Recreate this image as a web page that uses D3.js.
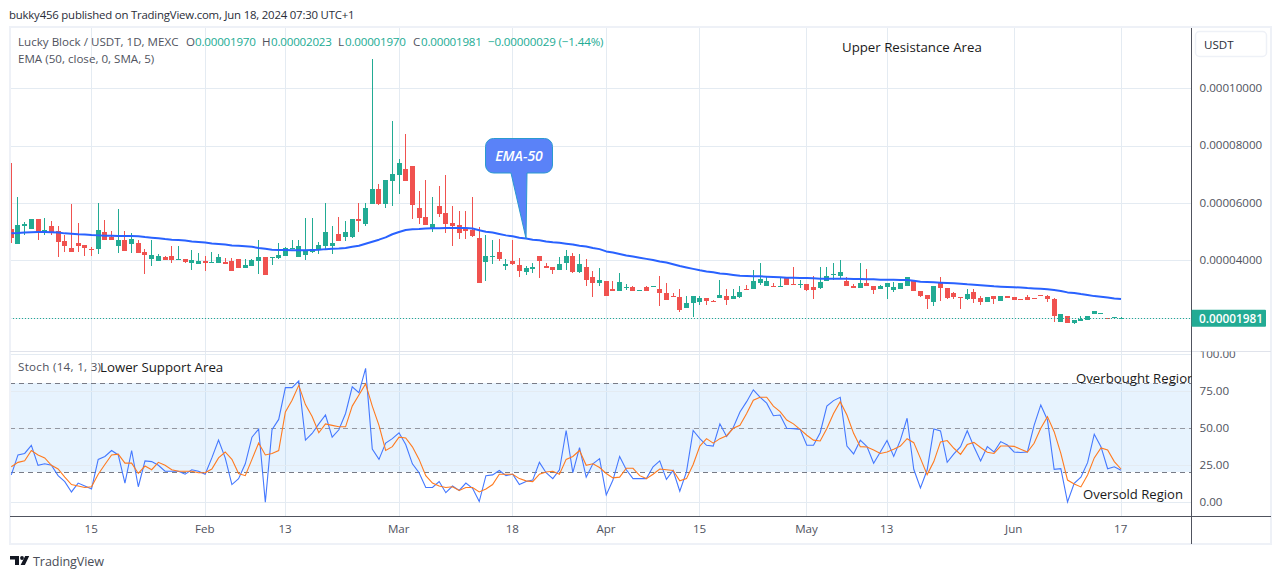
<!DOCTYPE html>
<html>
<head>
<meta charset="utf-8">
<script src="https://cdn.jsdelivr.net/npm/d3@7"></script>
<style>
  html, body { margin: 0; padding: 0; background: #fff; overflow: hidden; }
  text { font-family: "Open Sans", sans-serif; }
  .tick text { font-size: 11.6px; fill: #50535e; }
  .domain { display: none; }
</style>
</head>
<body>
<div id="chart"></div>
<script>
// prices below are in units of 0.00001 USDT, one candle per day from Jan 3 2024
var first_day = new Date(Date.UTC(2024, 0, 3));
var last_day = new Date(Date.UTC(2024, 5, 17));

var opens = [
  5.09,4.58,5.20,5.09,5.44,4.97,5.20,5.02,4.67,4.43,
  4.61,4.53,4.41,4.40,4.99,4.81,4.50,4.71,4.57,4.61,
  4.29,4.05,3.98,4.12,4.15,4.01,4.05,3.91,3.87,3.98,
  3.91,3.91,3.94,3.98,4.05,3.73,3.80,3.98,4.12,4.08,
  4.08,4.15,4.40,4.12,4.19,4.29,4.36,4.50,4.50,4.92,
  4.82,4.82,5.44,5.27,5.97,6.49,5.97,6.77,6.98,7.19,
  7.29,5.83,5.51,5.09,5.90,5.65,5.30,5.23,5.13,5.06,
  4.78,3.94,4.12,4.29,3.80,3.98,3.84,3.59,3.70,4.15,
  3.80,3.77,3.66,3.91,4.15,3.59,3.77,3.42,3.21,3.28,
  3.00,2.93,3.03,3.07,2.93,3.07,3.07,2.99,2.86,2.75,
  2.72,2.34,2.51,2.54,2.68,2.58,2.68,2.75,2.65,2.72,
  2.99,2.99,3.21,3.10,3.10,3.07,3.38,3.17,3.14,3.17,
  3.07,3.03,3.28,3.49,3.45,3.28,3.10,3.03,3.21,3.10,
  3.00,3.07,2.96,3.00,3.10,3.28,2.93,2.79,2.54,3.21,
  3.03,2.86,2.72,2.65,2.89,2.68,2.54,2.75,2.58,2.75,
  2.72,2.65,2.72,2.68,2.79,2.75,2.65,1.85,2.06,1.81,
  1.88,1.92,2.13,2.13,1.99,1.99,1.970
];
var highs = [
  7.39,6.20,5.34,5.44,5.44,5.47,5.37,5.20,4.88,5.97,
  5.30,4.53,4.48,6.00,5.41,5.02,5.79,5.02,4.95,4.71,
  4.40,4.71,4.22,4.15,4.50,4.50,4.05,4.36,4.26,4.15,
  4.29,4.22,4.08,4.08,4.05,4.05,4.05,4.71,4.12,4.12,
  4.60,4.47,4.71,4.71,5.48,5.48,4.64,5.99,5.20,5.51,
  5.37,5.44,6.00,6.00,11.03,6.66,6.80,8.86,7.54,8.41,
  7.29,6.42,6.80,6.21,6.59,6.98,5.90,5.72,5.72,6.21,
  5.16,4.89,4.71,4.75,4.05,4.71,4.08,3.80,3.91,4.15,
  3.91,3.77,4.12,4.36,4.26,4.22,4.05,3.63,3.73,3.28,
  3.28,3.56,3.17,3.10,2.96,3.10,3.10,3.45,3.21,2.86,
  2.99,2.75,2.75,2.75,2.68,2.61,3.31,2.99,2.99,3.10,
  3.14,3.66,3.91,3.42,3.21,3.38,3.38,3.77,3.31,3.17,
  3.45,3.77,3.77,3.91,4.01,3.42,3.17,3.91,3.70,3.10,
  3.14,3.21,3.24,3.21,3.42,3.28,2.93,2.79,3.10,3.42,
  3.03,2.89,2.72,3.00,3.00,2.75,2.72,2.75,2.75,2.75,
  2.72,2.65,2.79,2.68,2.79,2.79,2.68,2.13,2.06,1.92,
  2.06,2.06,2.23,2.16,1.99,2.02,2.023
];
var lows = [
  4.62,4.57,4.88,5.09,4.71,4.88,4.88,4.13,4.30,4.30,
  4.30,4.15,4.15,4.22,4.71,4.71,4.27,4.33,4.27,4.26,
  3.52,3.80,3.98,4.01,3.91,4.01,3.91,3.66,3.87,3.63,
  3.91,3.91,3.87,3.63,3.73,3.73,3.80,3.52,3.49,3.84,
  4.05,4.15,4.40,4.12,4.01,4.25,4.22,4.39,4.22,4.68,
  4.68,4.78,4.99,5.20,5.97,5.93,5.83,5.90,6.32,6.77,
  5.44,5.27,5.23,4.99,5.51,4.95,4.50,4.75,4.75,4.82,
  3.21,3.28,3.87,3.98,3.66,3.84,3.42,3.49,3.56,3.39,
  3.73,3.52,3.66,3.66,3.56,3.56,3.11,2.72,3.10,2.75,
  2.93,2.93,2.96,2.93,2.93,2.93,3.07,2.41,2.61,2.72,
  2.20,2.34,2.02,2.44,2.44,2.54,2.68,2.44,2.65,2.68,
  2.96,2.99,3.14,3.10,3.07,3.07,3.14,3.14,3.03,2.93,
  2.65,2.99,3.28,3.31,3.35,3.10,3.03,3.03,3.10,2.82,
  3.00,2.65,2.89,3.00,3.10,2.93,2.72,2.30,2.40,2.58,
  2.65,2.65,2.30,2.61,2.51,2.44,2.54,2.47,2.58,2.68,
  2.61,2.61,2.61,2.65,2.75,2.54,1.85,1.85,1.81,1.78,
  1.88,1.92,2.13,2.13,1.95,1.99,1.970
];
var closes = [
  4.79,5.23,5.27,5.44,4.97,5.06,4.97,4.65,4.50,4.30,
  4.50,4.43,4.37,5.06,4.71,4.71,4.71,4.33,4.74,4.26,
  4.19,4.19,4.15,4.01,4.01,4.05,3.94,4.01,3.98,3.91,
  3.94,4.12,3.87,3.63,3.73,3.84,4.01,4.12,3.49,4.12,
  4.19,4.43,4.43,4.50,4.33,4.39,4.54,4.99,4.61,4.68,
  4.99,5.44,5.37,5.83,6.49,5.97,6.80,7.01,7.40,6.77,
  5.93,5.48,5.23,5.27,5.62,5.27,5.20,4.95,5.02,4.85,
  3.21,4.15,4.15,4.05,3.87,3.87,3.63,3.73,3.77,3.98,
  3.73,3.66,3.87,4.15,3.59,3.87,3.32,3.21,3.31,2.75,
  2.93,3.24,3.07,2.93,2.96,2.93,3.10,2.86,2.61,2.72,
  2.26,2.51,2.75,2.68,2.58,2.54,2.79,2.61,2.75,2.89,
  2.96,3.28,3.35,3.28,3.07,3.10,3.14,3.14,3.17,2.96,
  2.96,3.24,3.45,3.52,3.59,3.10,3.03,3.21,3.10,2.96,
  3.10,3.21,3.07,3.21,3.42,2.93,2.75,2.65,3.10,3.03,
  2.68,2.72,2.68,2.82,2.65,2.54,2.72,2.65,2.75,2.68,
  2.61,2.61,2.61,2.65,2.75,2.65,2.06,2.13,1.81,1.92,
  1.95,2.06,2.23,2.16,1.95,2.02,1.981
];
var ema_values = [
  4.94,4.95,4.97,4.98,4.99,4.99,4.98,4.97,4.94,4.93,
  4.91,4.90,4.88,4.87,4.86,4.86,4.85,4.85,4.85,4.84,
  4.81,4.79,4.77,4.74,4.72,4.71,4.69,4.66,4.64,4.62,
  4.59,4.57,4.55,4.52,4.51,4.49,4.47,4.43,4.40,4.37,
  4.36,4.36,4.35,4.35,4.35,4.36,4.37,4.39,4.40,4.41,
  4.43,4.47,4.51,4.58,4.65,4.72,4.80,4.91,4.99,5.06,
  5.08,5.09,5.11,5.12,5.12,5.13,5.13,5.13,5.13,5.11,
  5.05,5.00,4.97,4.92,4.87,4.84,4.79,4.76,4.72,4.70,
  4.66,4.63,4.61,4.58,4.55,4.51,4.48,4.43,4.39,4.31,
  4.27,4.22,4.17,4.13,4.09,4.05,4.01,3.96,3.92,3.86,
  3.80,3.75,3.70,3.65,3.61,3.58,3.54,3.52,3.49,3.46,
  3.45,3.44,3.44,3.43,3.42,3.41,3.39,3.39,3.38,3.38,
  3.37,3.36,3.36,3.36,3.36,3.36,3.35,3.35,3.34,3.34,
  3.32,3.32,3.32,3.31,3.31,3.29,3.25,3.24,3.23,3.22,
  3.21,3.20,3.18,3.16,3.15,3.13,3.11,3.09,3.08,3.07,
  3.06,3.05,3.03,3.02,3.01,2.99,2.96,2.93,2.88,2.86,
  2.82,2.79,2.75,2.73,2.70,2.67,2.65
];
var stoch_k = [
  18.5,32,33,38.5,25,26,25,18,14,7,
  13,11,9,29,31,35,32,13,35,10.5,
  28,27.5,25,21,21,21,19,22,21,19,
  30,42,30,12,16,26,44,49.5,0,49,
  56,77.5,77.5,82,42,46.5,53,59,44,49,
  60,78,74,90.5,36,29,40,43,47,39,
  26,20,10,10,14,6.5,11,8,13,9.5,
  0.5,18,18.5,21.5,18,19,12,14,15,27,
  20,16,22,48.5,20,37,17,26,29.5,5,
  15,31,22,16,16,16,24,28,15.5,21.5,
  7.5,20.5,48.5,43,38.5,38,53,44.5,50.5,61,
  68,76,71,67,58.5,59,50,49.8,49.3,38.5,
  38.5,47,65,68.7,71,38,32.7,42,37.6,26.4,
  34,41.7,31,42,56.8,22.3,9.7,21.8,49.5,48.2,
  27,32.7,37.6,48.4,37.6,28,37.6,34,41,38.7,
  34,33.6,34,52,65.8,55.6,22.3,22.7,0.2,12.8,
  17,26.8,46,37.6,22.7,24,21.6
];
var stoch_d = [
  24,27,28,35,32,30,25,22.5,17,12,
  11,10,10.5,19,25.5,32,32.5,26.5,26.5,19.5,
  24.5,22,27,25,22,21,21,21,20,20,
  22.5,30,34,29,19.5,18,29,40,32,33,
  35,61,69,79,66,58,47,53,52,51,
  51,65,72.5,80,65,52,35,37.6,44,43.5,
  37.5,29,18,13,11,10,10.5,8,10,10,
  7,9,12,19,19,19,16,14.5,14,19,
  20.5,21,19,29,31,35,25,26,23.5,19.5,
  16.5,17,23,23,18,16,19,22.5,22,21.5,
  14.5,16,25.5,38,43,40,43,45,50,52,
  60,69,71,71,65,61.3,55.6,53,49.3,45.3,
  42,41.4,49.8,60,68,59,46.6,37.6,37.4,35.4,
  33,34,35.8,38,43,40.3,29.7,18.7,27.5,40.8,
  41.7,36.5,32.4,39,40.5,37,33.8,33,38,38,
  37.8,35.8,34,39.9,50,57.9,47.7,33,15,12.4,
  10.4,18.5,30,36.7,35.4,27.5,22.5
];

var price_ticks = [2, 4, 6, 8, 10];
var stoch_ticks = [0, 25, 50, 75, 100];
var time_ticks = [
  [2024, 0, 15, '15'], [2024, 1, 1, 'Feb'], [2024, 1, 13, '13'], [2024, 2, 1, 'Mar'],
  [2024, 2, 18, '18'], [2024, 3, 1, 'Apr'], [2024, 3, 15, '15'], [2024, 4, 1, 'May'],
  [2024, 4, 13, '13'], [2024, 5, 1, 'Jun'], [2024, 5, 17, '17']
];
var last_price = closes[closes.length - 1];

var up_color = '#22ab94';
var down_color = '#f0524f';
var grid_color = '#e4ebf2';
var axis_color = '#50535e';

var svg_width = 1281;
var svg_height = 579;
var pane_left = 10;
var axis_x = 1191.5;
var frame_right = 1271;
var pane_top = 28;
var split_y = 351.5;
var time_y = 516.5;
var frame_bottom = 543.5;

var main_svg = d3.select('#chart')
  .append('svg')
  .attr('width', svg_width)
  .attr('height', svg_height)
  .style('display', 'block');

// scales
/////////////////////
var x_scale = d3.scaleUtc().domain([first_day, last_day]).range([11.3, 1121]);
var y_price = d3.scaleLinear().domain([2, 10]).range([317.6, 88.4]);
var y_stoch = d3.scaleLinear().domain([0, 100]).range([502.3, 354.3]);

var days = d3.range(opens.length).map(function(i){
  return d3.utcDay.offset(first_day, i);
});
var tick_dates = time_ticks.map(function(d){
  return new Date(Date.UTC(d[0], d[1], d[2]));
});

var defs = main_svg.append('defs');
defs.append('clipPath').attr('id', 'clip-main')
  .append('rect').attr('x', pane_left).attr('y', pane_top)
  .attr('width', axis_x - pane_left).attr('height', time_y - pane_top);
defs.append('clipPath').attr('id', 'clip-stoch-axis')
  .append('rect').attr('x', axis_x).attr('y', split_y)
  .attr('width', 80).attr('height', time_y - split_y);

// grid
/////////////////////
var grid = main_svg.append('g').attr('shape-rendering', 'crispEdges')
  .attr('stroke', grid_color).attr('stroke-width', 1);

grid.selectAll('.vline').data(tick_dates).enter().append('line')
  .attr('x1', function(d){ return Math.floor(x_scale(d)) + 0.5; })
  .attr('x2', function(d){ return Math.floor(x_scale(d)) + 0.5; })
  .attr('y1', pane_top).attr('y2', time_y);

grid.selectAll('.pline').data(price_ticks).enter().append('line')
  .attr('x1', pane_left).attr('x2', axis_x)
  .attr('y1', function(d){ return Math.round(y_price(d)) + 0.5; })
  .attr('y2', function(d){ return Math.round(y_price(d)) + 0.5; });

// stoch band under its grid lines
main_svg.append('rect')
  .attr('x', pane_left).attr('width', axis_x - pane_left)
  .attr('y', Math.floor(y_stoch(80))).attr('height', Math.floor(y_stoch(20)) - Math.floor(y_stoch(80)))
  .attr('fill', '#2196f3').attr('fill-opacity', 0.11);

main_svg.append('g').attr('shape-rendering', 'crispEdges')
  .attr('stroke', grid_color)
  .selectAll('line').data(stoch_ticks).enter().append('line')
  .attr('x1', pane_left).attr('x2', axis_x)
  .attr('y1', function(d){ return Math.round(y_stoch(d)) + 0.5; })
  .attr('y2', function(d){ return Math.round(y_stoch(d)) + 0.5; });

var dash_levels = [80, 50, 20];
main_svg.append('g').attr('shape-rendering', 'crispEdges')
  .selectAll('line').data(dash_levels).enter().append('line')
  .attr('x1', pane_left).attr('x2', axis_x)
  .attr('y1', function(d){ return Math.floor(y_stoch(d)) + 0.5; })
  .attr('y2', function(d){ return Math.floor(y_stoch(d)) + 0.5; })
  .attr('stroke', '#787b86')
  .attr('stroke-opacity', function(d){ return d === 50 ? 0.75 : 1; })
  .attr('stroke-dasharray', '5,4');

// candles
/////////////////////
var candle_color = function(i){
  return closes[i] >= opens[i] ? up_color : down_color;
};

var candles = main_svg.append('g').attr('shape-rendering', 'crispEdges')
  .selectAll('g').data(days).enter().append('g');

candles.append('rect').classed('wick', true)
  .attr('x', function(d){ return Math.floor(x_scale(d)); })
  .attr('width', 1)
  .attr('y', function(d, i){ return y_price(highs[i]); })
  .attr('height', function(d, i){ return y_price(lows[i]) - y_price(highs[i]); })
  .attr('fill', function(d, i){ return candle_color(i); });

candles.append('rect').classed('body', true)
  .attr('x', function(d){ return Math.floor(x_scale(d)) - 2; })
  .attr('width', 5)
  .attr('y', function(d, i){ return y_price(Math.max(opens[i], closes[i])); })
  .attr('height', function(d, i){
    return Math.max(1, Math.abs(y_price(opens[i]) - y_price(closes[i])));
  })
  .attr('fill', function(d, i){ return candle_color(i); });

// last price dotted line
main_svg.append('line')
  .attr('x1', pane_left).attr('x2', axis_x)
  .attr('y1', Math.round(y_price(last_price)) + 0.5)
  .attr('y2', Math.round(y_price(last_price)) + 0.5)
  .attr('stroke', up_color).attr('stroke-width', 1)
  .attr('stroke-dasharray', '1,2');

// ema
var make_line = function(values, y_scale){
  return d3.line()
    .x(function(d, i){ return x_scale(days[i]); })
    .y(function(d){ return y_scale(d); })(values);
};

main_svg.append('path')
  .attr('d', make_line(ema_values, y_price))
  .attr('fill', 'none').attr('stroke', '#2962ff').attr('stroke-width', 2)
  .attr('stroke-linejoin', 'round');

// stochastic
main_svg.append('path')
  .attr('d', make_line(stoch_k, y_stoch))
  .attr('fill', 'none').attr('stroke', '#4478ff').attr('stroke-width', 1.1);
main_svg.append('path')
  .attr('d', make_line(stoch_d, y_stoch))
  .attr('fill', 'none').attr('stroke', '#ff7a1f').attr('stroke-width', 1.1);

// ema callout, its tip sits on the line
/////////////////////
var tip_i = 77;
var tip_x = x_scale(days[tip_i]);
var tip_y = y_price(ema_values[tip_i]);
var box = {x: 485.5, y: 138.5, w: 67, h: 34.5, r: 8};
var tail_left = 511;
var tail_right = 527;
var callout_path = d3.path();
callout_path.moveTo(box.x + box.r, box.y);
callout_path.arcTo(box.x + box.w, box.y, box.x + box.w, box.y + box.h, box.r);
callout_path.arcTo(box.x + box.w, box.y + box.h, box.x, box.y + box.h, box.r);
callout_path.lineTo(tail_right, box.y + box.h);
callout_path.lineTo(tip_x, tip_y);
callout_path.lineTo(tail_left, box.y + box.h);
callout_path.arcTo(box.x, box.y + box.h, box.x, box.y, box.r);
callout_path.arcTo(box.x, box.y, box.x + box.w, box.y, box.r);
callout_path.closePath();

main_svg.append('path')
  .attr('d', callout_path.toString())
  .attr('fill', '#5a82f8').attr('stroke', '#2a9ad0').attr('stroke-width', 1);

main_svg.append('text')
  .attr('x', 519).attr('y', 161)
  .attr('text-anchor', 'middle')
  .attr('fill', '#fff').attr('font-size', '14px')
  .attr('font-style', 'italic').attr('font-weight', 600)
  .text('EMA-50');

// frame
/////////////////////
var frame = main_svg.append('g').attr('shape-rendering', 'crispEdges');

frame.append('rect')
  .attr('x', 9.5).attr('y', 27)
  .attr('width', frame_right - 9.5).attr('height', frame_bottom - 27)
  .attr('fill', 'none').attr('stroke', '#eef1f7').attr('stroke-width', 2);

frame.append('line')
  .attr('x1', pane_left).attr('x2', frame_right)
  .attr('y1', split_y).attr('y2', split_y)
  .attr('stroke', '#e0e3eb');

frame.append('line')
  .attr('x1', axis_x).attr('x2', axis_x)
  .attr('y1', pane_top).attr('y2', frame_bottom)
  .attr('stroke', axis_color);

frame.append('line')
  .attr('x1', pane_left).attr('x2', frame_right)
  .attr('y1', time_y).attr('y2', time_y)
  .attr('stroke', axis_color);

// axes
/////////////////////
var price_axis = d3.axisRight(y_price)
  .tickValues(price_ticks.slice(1))
  .tickSize(0).tickPadding(8)
  .tickFormat(function(d){ return (d * 1e-5).toFixed(8); });

main_svg.append('g')
  .attr('transform', 'translate(' + axis_x + ',-0.6)')
  .call(price_axis);

var stoch_axis = d3.axisRight(y_stoch)
  .tickValues(stoch_ticks)
  .tickSize(0).tickPadding(8)
  .tickFormat(function(d){ return d.toFixed(2); });

main_svg.append('g')
  .attr('clip-path', 'url(#clip-stoch-axis)')
  .append('g')
  .attr('transform', 'translate(' + axis_x + ',-1)')
  .call(stoch_axis);

var time_axis = d3.axisBottom(x_scale)
  .tickValues(tick_dates)
  .tickSize(0).tickPadding(8)
  .tickFormat(function(d, i){ return time_ticks[i][3]; });

main_svg.append('g')
  .attr('transform', 'translate(-0.8,' + time_y + ')')
  .call(time_axis);

// currency button and last price tag
main_svg.append('rect')
  .attr('x', 1195.5).attr('y', 31.5).attr('width', 71).attr('height', 25).attr('rx', 4)
  .attr('fill', '#fff').attr('stroke', '#eef1f7').attr('stroke-width', 1.5);
main_svg.append('text')
  .attr('x', 1204).attr('y', 48.5)
  .attr('font-size', '11.6px').attr('fill', '#2a2e39')
  .text('USDT');

main_svg.append('rect')
  .attr('x', axis_x).attr('y', y_price(last_price) - 8.5)
  .attr('width', 74.5).attr('height', 17).attr('rx', 1)
  .attr('fill', up_color);
main_svg.append('text')
  .attr('x', 1199).attr('y', y_price(last_price) + 4.5)
  .attr('font-size', '11.8px').attr('font-weight', 600).attr('fill', '#fff')
  .text((last_price * 1e-5).toFixed(8));

// legends and labels
/////////////////////
var add_text = function(str, x, y, size, fill, extra){
  var t = main_svg.append('text')
    .attr('x', x).attr('y', y)
    .attr('font-size', size + 'px').attr('fill', fill)
    .text(str);
  if (extra){ t.attr('letter-spacing', extra); }
  return t;
};

add_text('bukky456 published on TradingView.com, Jun 18, 2024 07:30 UTC+1', 9, 19, 11.4, '#2a2e39', '-0.2px');

var head_grey = '#50535e';
add_text('Lucky Block / USDT, 1D, MEXC', 18, 46, 11.6, head_grey);
add_text('O', 186, 46, 11.6, head_grey);
add_text('0.00001970', 195, 46, 11.6, up_color, '-0.2px');
add_text('H', 262, 46, 11.6, head_grey);
add_text('0.00002023', 271, 46, 11.6, up_color, '-0.2px');
add_text('L', 338, 46, 11.6, head_grey);
add_text('0.00001970', 345, 46, 11.6, up_color, '-0.2px');
add_text('C', 413, 46, 11.6, head_grey);
add_text('0.00001981', 421, 46, 11.6, up_color, '-0.2px');
add_text('\u22120.00000029 (\u22121.44%)', 488, 46, 11.6, up_color, '-0.15px');
add_text('EMA (50, close, 0, SMA, 5)', 18, 63, 11.6, head_grey);
add_text('Stoch (14, 1, 3)', 18, 371, 11.6, head_grey, '0.3px');

add_text('Upper Resistance Area', 842, 52, 13.25, '#1a1a1a');
add_text('Lower Support Area', 100, 372, 13.25, '#1a1a1a');
add_text('Overbought Region', 1076, 383, 13.2, '#1a1a1a').attr('clip-path', 'url(#clip-main)');
add_text('Oversold Region', 1083, 499, 13.1, '#1a1a1a');

// footer logo
main_svg.append('path')
  .attr('d', 'M10 556h9v9h-4v-5.5h-5z M25.2 556h4l-4.3 9h-4.3z')
  .attr('fill', '#131722');
main_svg.append('circle')
  .attr('cx', 22).attr('cy', 558).attr('r', 1.9)
  .attr('fill', '#131722');
add_text('TradingView', 33, 566, 12.6, '#4a4d57', '-0.1px');
</script>
</body>
</html>
